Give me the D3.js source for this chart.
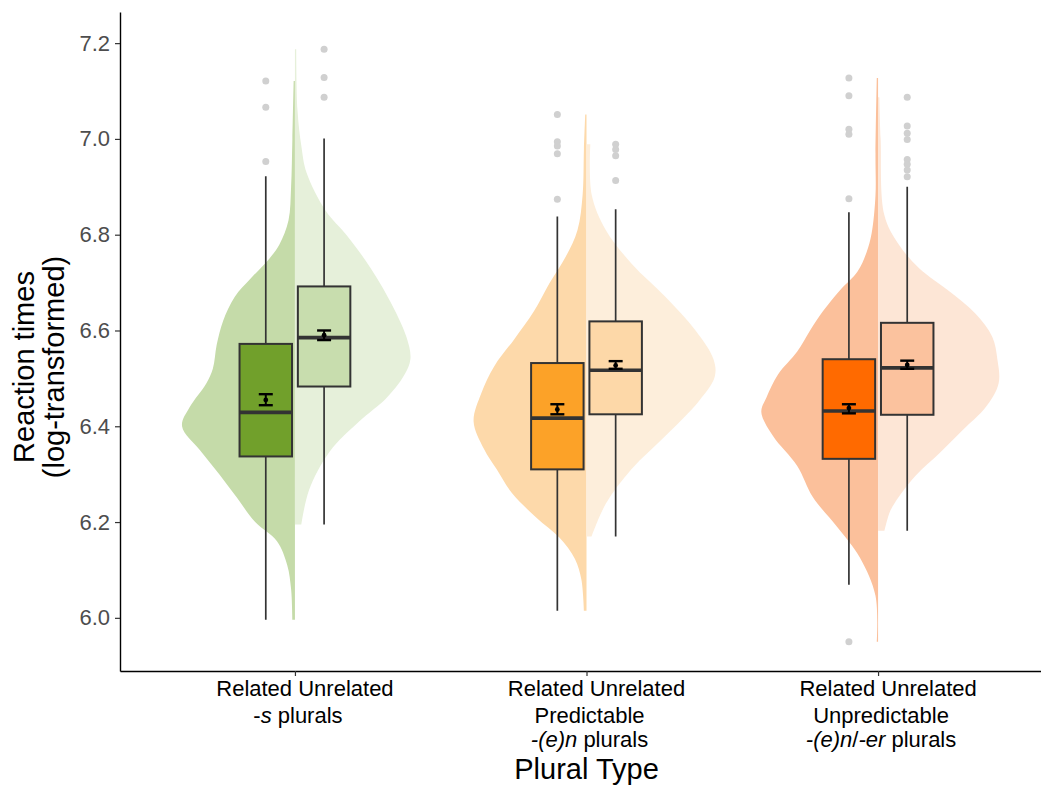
<!DOCTYPE html>
<html>
<head>
<meta charset="utf-8">
<script src="https://cdn.jsdelivr.net/npm/d3@7"></script>
<style>
  body { margin: 0; background: #ffffff; }
  svg text { font-family: "Liberation Sans", Arial, Helvetica, sans-serif; }
</style>
</head>
<body>
<div id="chart"></div>
<script>
var width = 1041, height = 787;

/***** Data **************************/
var groups = [1, 2, 3];
var conditions = ["Related", "Unrelated"];
var yTicks = [6.0, 6.2, 6.4, 6.6, 6.8, 7.0, 7.2];

// line 1 of every tick label is "Related Unrelated", then the plural type ([text, italic])
var groupLabels = [
  [[["-", false], ["s", true], [" plurals", false]]],
  [[["Predictable", false]], [["-(e)n", true], [" plurals", false]]],
  [[["Unpredictable", false]], [["-(e)n", true], ["/", false], ["-er", true], [" plurals", false]]]
];

// cells: s-Rel, s-Unr, pred-Rel, pred-Unr, unpred-Rel, unpred-Unr
var whiskerLow  = [5.996, 6.195, 6.015, 6.170, 6.069, 6.182];
var q1          = [6.337, 6.483, 6.310, 6.425, 6.332, 6.424];
var median      = [6.429, 6.585, 6.417, 6.517, 6.432, 6.522];
var q3          = [6.572, 6.692, 6.532, 6.619, 6.540, 6.616];
var whiskerHigh = [6.922, 7.001, 6.838, 6.853, 6.847, 6.900];
var means       = [6.455, 6.590, 6.435, 6.527, 6.438, 6.528];
var seLow       = [6.444, 6.580, 6.425, 6.520, 6.427, 6.520];
var seHigh      = [6.467, 6.600, 6.446, 6.536, 6.446, 6.537];

var outliers = [
  [7.121, 7.066, 6.953],
  [7.187, 7.128, 7.087],
  [7.051, 6.994, 6.985, 6.969, 6.874],
  [6.989, 6.978, 6.965, 6.913],
  [7.127, 7.090, 7.020, 7.010, 6.875, 5.950],
  [7.087, 7.027, 7.012, 6.999, 6.957, 6.947, 6.935, 6.921]
];

// half violins: [value, relative density]
var violin_s_rel = [[7.121,.01],[7.0,.02],[6.9,.03],[6.83,.05],[6.78,.12],[6.75,.2],[6.71,.34],[6.67,.47],[6.62,.56],[6.57,.61],[6.52,.64],[6.49,.69],[6.44,.82],[6.40,.88],[6.35,.74],[6.30,.59],[6.25,.45],[6.20,.31],[6.16,.14],[6.11,.06],[6.06,.03],[5.996,.02]];
var violin_s_unr = [[7.187,.01],[7.06,.02],[6.985,.05],[6.93,.09],[6.85,.24],[6.80,.4],[6.746,.55],[6.667,.73],[6.586,.87],[6.54,.9],[6.506,.85],[6.458,.71],[6.41,.5],[6.347,.27],[6.267,.11],[6.195,.05]];
var violin_pred_rel = [[7.051,.01],[6.98,.02],[6.884,.03],[6.81,.07],[6.755,.16],[6.698,.29],[6.64,.41],[6.583,.56],[6.525,.72],[6.469,.82],[6.41,.88],[6.353,.8],[6.31,.7],[6.26,.58],[6.209,.39],[6.167,.21],[6.123,.09],[6.08,.04],[6.015,.02]];
var violin_pred_unr = [[6.989,.03],[6.884,.04],[6.81,.15],[6.74,.35],[6.669,.62],[6.60,.85],[6.54,.99],[6.504,1.0],[6.454,.88],[6.381,.62],[6.31,.35],[6.238,.15],[6.17,.04]];
var violin_unpred_rel = [[7.127,.01],[6.97,.02],[6.883,.02],[6.803,.05],[6.763,.09],[6.723,.16],[6.683,.3],[6.64,.43],[6.60,.53],[6.556,.63],[6.508,.78],[6.46,.87],[6.43,.91],[6.38,.82],[6.317,.63],[6.253,.51],[6.19,.32],[6.125,.14],[6.046,.02],[5.95,.01]];
var violin_unpred_unr = [[7.087,.01],[7.0,.02],[6.84,.05],[6.78,.16],[6.73,.32],[6.683,.55],[6.635,.76],[6.587,.89],[6.54,.93],[6.49,.94],[6.44,.84],[6.392,.66],[6.344,.48],[6.296,.29],[6.24,.13],[6.22,.09],[6.182,.05]];
var violins = [violin_s_rel, violin_s_unr, violin_pred_rel, violin_pred_unr, violin_unpred_rel, violin_unpred_unr];

var boxFill    = ["#71a02b", "#c8ddae", "#fca228", "#fdd8a8", "#ff6a00", "#fbc29e"];
var violinFill = ["#c5dba9", "#e6f0da", "#fdd9aa", "#fdeedb", "#fbc09b", "#fde6d6"];

/***** Scales ******/
var x = d3.scaleLinear().domain([0.4, 3.6]).range([120, 1053]);
var y = d3.scaleLinear().domain([5.889, 7.265]).range([671, 12]);
var unit = x(1) - x(0);
var dodge = 0.1 * unit, boxHalf = 0.09 * unit;
var w = d3.scaleLinear().domain([0, 1]).range([0, 0.44 * unit]);

var cells = [];
groups.forEach(function(g, gi) {
  conditions.forEach(function(c, ci) {
    var i = gi * 2 + ci;
    cells.push({ i: i, g: g, side: ci === 0 ? -1 : 1,
                 cx: x(g) + (ci === 0 ? -dodge : dodge) });
  });
});

var svg = d3.select("#chart").append("svg")
            .attr("width", width).attr("height", height)
            .style("display", "block");

/***** Violins ******/
cells.forEach(function(c) {
  var area = d3.area()
    .curve(d3.curveCatmullRom.alpha(0.5))
    .y(function(d) { return y(d[0]); })
    .x0(x(c.g))
    .x1(function(d) { return x(c.g) + c.side * w(d[1]); });
  svg.append("path")
     .datum(violins[c.i])
     .attr("d", area)
     .attr("fill", violinFill[c.i]);
});

/***** Boxplots ******/
var gBox = svg.selectAll(".cell").data(cells).enter().append("g").attr("class", "cell");

gBox.append("line")
    .attr("x1", function(d) { return d.cx; }).attr("x2", function(d) { return d.cx; })
    .attr("y1", function(d) { return y(whiskerLow[d.i]); })
    .attr("y2", function(d) { return y(whiskerHigh[d.i]); })
    .attr("stroke", "#333333").attr("stroke-width", 1.7);

gBox.append("rect")
    .attr("x", function(d) { return d.cx - boxHalf; })
    .attr("y", function(d) { return y(q3[d.i]); })
    .attr("width", 2 * boxHalf)
    .attr("height", function(d) { return y(q1[d.i]) - y(q3[d.i]); })
    .attr("fill", function(d) { return boxFill[d.i]; })
    .attr("stroke", "#333333").attr("stroke-width", 2);

gBox.append("line")
    .attr("x1", function(d) { return d.cx - boxHalf; })
    .attr("x2", function(d) { return d.cx + boxHalf; })
    .attr("y1", function(d) { return y(median[d.i]); })
    .attr("y2", function(d) { return y(median[d.i]); })
    .attr("stroke", "#333333").attr("stroke-width", 3.6);

gBox.selectAll(".outlier")
    .data(function(d) { return outliers[d.i].map(function(v) { return { cx: d.cx, v: v }; }); })
    .enter().append("circle")
    .attr("class", "outlier")
    .attr("cx", function(d) { return d.cx; })
    .attr("cy", function(d) { return y(d.v); })
    .attr("r", 3.5)
    .attr("fill", "#d0d0d0");

/***** Mean +/- SE ******/
var cap = 7;
gBox.append("line")
    .attr("x1", function(d) { return d.cx; }).attr("x2", function(d) { return d.cx; })
    .attr("y1", function(d) { return y(seLow[d.i]); })
    .attr("y2", function(d) { return y(seHigh[d.i]); })
    .attr("stroke", "#000").attr("stroke-width", 2);
[seLow, seHigh].forEach(function(arr) {
  gBox.append("line")
      .attr("x1", function(d) { return d.cx - cap; }).attr("x2", function(d) { return d.cx + cap; })
      .attr("y1", function(d) { return y(arr[d.i]); })
      .attr("y2", function(d) { return y(arr[d.i]); })
      .attr("stroke", "#000").attr("stroke-width", 2.4);
});
gBox.append("circle")
    .attr("cx", function(d) { return d.cx; })
    .attr("cy", function(d) { return y(means[d.i]); })
    .attr("r", 2.4)
    .attr("fill", "#000");

/***** Axes ******/
var yAxis = svg.append("g")
   .attr("transform", "translate(120,0)")
   .call(d3.axisLeft(y).tickValues(yTicks).tickFormat(d3.format(".1f"))
            .tickSize(5).tickPadding(5).tickSizeOuter(0));
yAxis.select(".domain").attr("stroke", "#000").attr("stroke-width", 1.4);
yAxis.selectAll(".tick line").attr("stroke", "#333").attr("stroke-width", 1.2);
yAxis.selectAll(".tick text").attr("fill", "#4d4d4d").style("font-size", "22px")
     .style("font-family", "'Liberation Sans', Arial, sans-serif");

var xAxis = svg.append("g")
   .attr("transform", "translate(0,671)")
   .call(d3.axisBottom(x).tickValues(groups).tickFormat("")
            .tickSize(5).tickSizeOuter(0));
xAxis.select(".domain").attr("stroke", "#000").attr("stroke-width", 1.4);
xAxis.selectAll(".tick line").attr("stroke", "#333").attr("stroke-width", 1.2);

/***** Category labels ******/
groups.forEach(function(g, gi) {
  svg.append("text")
     .attr("x", x(g) + 10).attr("y", 696)
     .attr("text-anchor", "middle")
     .style("font-size", "22px").attr("fill", "#000")
     .text(conditions.join(" "));
  groupLabels[gi].forEach(function(line, li) {
    var t = svg.append("text")
       .attr("x", x(g) + 3).attr("y", 723 + li * 24)
       .attr("text-anchor", "middle")
       .style("font-size", "22px").attr("fill", "#000");
    line.forEach(function(seg) {
      t.append("tspan").attr("font-style", seg[1] ? "italic" : "normal").text(seg[0]);
    });
  });
});

/***** Axis titles ******/
svg.append("text")
   .attr("x", (x(0.4) + x(3.6)) / 2).attr("y", 779)
   .attr("text-anchor", "middle")
   .style("font-size", "29px").attr("fill", "#000")
   .text("Plural Type");

var yTitle = svg.append("text")
   .attr("transform", "translate(34,367) rotate(-90)")
   .attr("text-anchor", "middle")
   .style("font-size", "29px").attr("fill", "#000");
yTitle.append("tspan").attr("x", 0).attr("y", 0).text("Reaction times");
yTitle.append("tspan").attr("x", 0).attr("y", 30).text("(log-transformed)");
</script>
</body>
</html>
